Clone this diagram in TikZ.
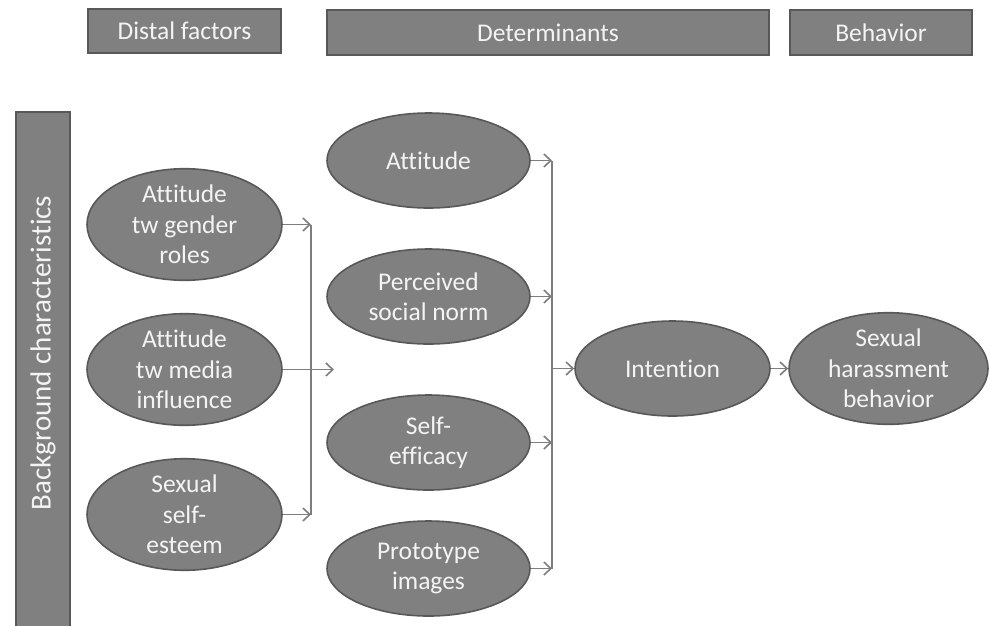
\documentclass[tikz,border=0pt]{standalone}
\usepackage{fontspec}
\setmainfont{Carlito}[Ligatures={NoCommon}]
\usetikzlibrary{shapes.geometric,arrows.meta}
\definecolor{boxfill}{RGB}{128,128,128}
\definecolor{boxline}{RGB}{88,88,88}
\definecolor{connc}{RGB}{125,125,125}
\definecolor{txt}{RGB}{244,244,244}
\begin{document}
\begin{tikzpicture}[x=1pt,y=-1pt,
  hdr/.style={draw=boxline,fill=boxfill,line width=1.6pt,text=txt,inner sep=0pt,
    font=\fontsize{25.5}{30.5}\selectfont},
  ell/.style={ellipse,draw=boxline,fill=boxfill,line width=1.6pt,text=txt,align=center,
    inner sep=0pt,minimum width=195pt,minimum height=95pt,
    font=\fontsize{25.5}{30.5}\selectfont},
  midell/.style={ell,minimum width=203pt},
  link/.style={draw=connc,line width=1.6pt},
  conn/.style={link,-{Straight Barb[length=7pt,width=13pt,line width=1.6pt]}}
]
\useasboundingbox (0,0) rectangle (990,625);

% headers
\node[hdr,minimum width=193pt,minimum height=44pt] (distal) at (184.5,31) {Distal factors};
\node[hdr,minimum width=442pt,minimum height=45pt] (determ) at (548,32.5) {Determinants};
\node[hdr,minimum width=182pt,minimum height=45pt] (behav) at (881,32.5) {Behavior};

% background bar
\node[hdr,minimum width=54pt,minimum height=530pt] (bg) at (43,377) {};
\node[text=txt,rotate=90,inner sep=0pt,font=\fontsize{29}{34}\selectfont] (bgtext) at (43,353) {Background characteristics};

% left column
\node[ell] (gender) at (184.5,224.5) {Attitude\\tw gender\\roles};
\node[ell] (media) at (184.5,369.5) {Attitude\\tw media\\influence};
\node[ell] (esteem) at (184.5,514.5) {Sexual\\self-\\esteem};

% middle column
\node[midell] (att) at (428.5,160.5) {Attitude};
\node[midell] (norm) at (428.5,296.5) {Perceived\\social norm};
\node[midell] (eff) at (428.5,442.5) {Self-\\efficacy};
\node[midell] (proto) at (428.5,568.5) {Prototype\\images};

% right
\node[ell] (intent) at (672.5,368.5) {Intention};
\node[ell,minimum width=199pt] (shb) at (888.5,368.5) {Sexual\\harassment\\behavior};

% junctions
\coordinate (jl) at (311,0);
\coordinate (jm) at (334,0);
\coordinate (jr) at (552,0);

% left connectors
\draw[link] (gender.east -| jl) -- (esteem.east -| jl);
\draw[conn] (gender.east) -- (gender.east -| jl);
\draw[conn] (esteem.east) -- (esteem.east -| jl);
\draw[conn] (media.east) -- (media.east -| jm);

% right connectors
\draw[link] (att.east -| jr) -- (proto.east -| jr);
\draw[conn] (att.east) -- (att.east -| jr);
\draw[conn] (norm.east) -- (norm.east -| jr);
\draw[conn] (eff.east) -- (eff.east -| jr);
\draw[conn] (proto.east) -- (proto.east -| jr);
\draw[conn] (intent.west -| jr) -- (intent.west);
\draw[conn] (intent.east) -- (shb.west);
\end{tikzpicture}
\end{document}
